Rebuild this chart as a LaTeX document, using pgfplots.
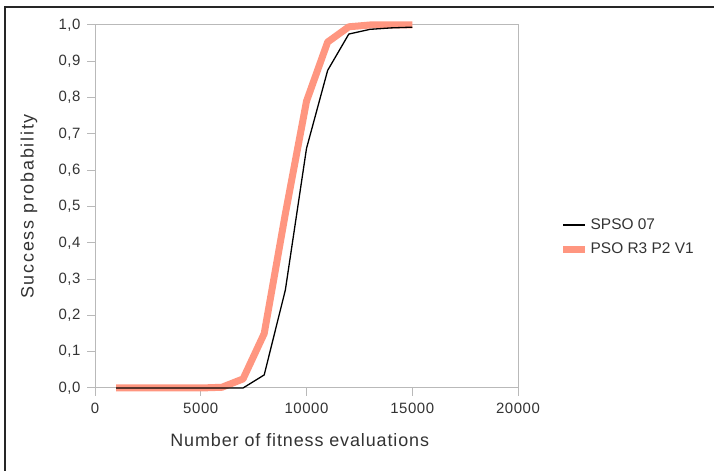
\documentclass[border=0pt]{standalone}
\usepackage{pgfplots}
\pgfplotsset{compat=1.18}
\usepackage{fontspec}
\setmainfont{Liberation Sans}
\newfontfamily\spfont{Liberation Sans}[LetterSpace=4]
\newfontfamily\xlfont{Liberation Sans}[LetterSpace=5]
\newfontfamily\ylfont{Liberation Sans}[LetterSpace=10]
\definecolor{salmon}{RGB}{255,150,128}
\definecolor{axgray}{RGB}{185,185,185}
\definecolor{txt}{RGB}{51,51,51}
\begin{document}
\begin{tikzpicture}[x=1bp,y=1bp]
\useasboundingbox (0,0) rectangle (714,471);
\draw[line width=2bp, black!85] (5,0) -- (5,464) -- (714,464);
\begin{axis}[
  at={(95bp,83bp)}, anchor=south west,
  scale only axis, width=423bp, height=363bp,
  xmin=0, xmax=20000, ymin=0, ymax=1,
  clip=false,
  xtick={0,5000,10000,15000,20000},
  ytick={0,0.1,0.2,0.3,0.4,0.5,0.6,0.7,0.8,0.9,1},
  scaled x ticks=false,
  axis line style={axgray, line width=1bp},
  tick style={axgray, line width=1bp},
  major tick length=8bp, tick align=outside,
  xtick pos=bottom, ytick pos=left,
  /pgf/number format/assume math mode=true,
  ticklabel style={font=\spfont\fontsize{15}{17}\selectfont, text=txt},
  yticklabel style={xshift=-3bp, /pgf/number format/.cd, fixed, fixed zerofill, precision=1, use comma},
  xticklabel style={yshift=-4bp, /pgf/number format/.cd, fixed, 1000 sep={}},
  xlabel={Number of fitness evaluations},
  ylabel={Success probability},
  label style={text=txt},
  xlabel style={font=\xlfont\fontsize{18}{20}\selectfont, at={(axis description cs:0.484,-0.143)}, anchor=center},
  ylabel style={font=\ylfont\fontsize{18}{20}\selectfont, at={(axis description cs:-0.156,0.5)}, anchor=center},
  legend style={at={(1.098,0.416)}, anchor=west, draw=none, fill=none,
    font=\fontsize{15.5}{18}\selectfont, text=txt, row sep=8bp, inner sep=0pt},
  legend cell align=left,
  reverse legend,
  legend image code/.code={\draw[#1] (0bp,0bp) -- (22bp,0bp);},
]
\addplot[salmon, line width=7bp, line join=round] coordinates {
(1000,0) (2000,0) (3000,0) (4000,0) (5000,0) (6000,0.002) (7000,0.025)
(8000,0.15) (9000,0.48) (10000,0.79) (11000,0.953) (12000,0.995)
(13000,1.0) (14000,1.0) (15000,1.0)};
\addlegendentry{PSO R3 P2 V1}
\addplot[black, line width=1.3bp, line join=round] coordinates {
(1000,0) (2000,0) (3000,0) (4000,0) (5000,0) (6000,0) (7000,0)
(8000,0.036) (9000,0.27) (10000,0.66) (11000,0.875) (12000,0.975)
(13000,0.988) (14000,0.992) (15000,0.994)};
\addlegendentry{SPSO 07}
\end{axis}
\end{tikzpicture}
\end{document}
